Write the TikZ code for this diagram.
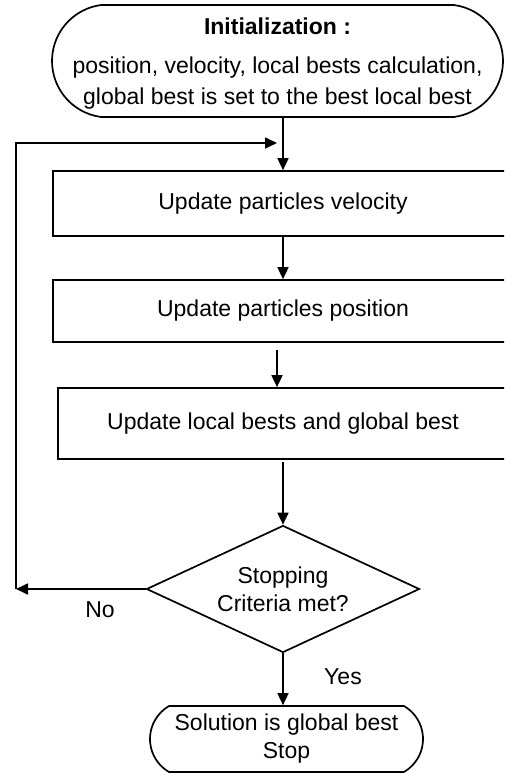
\documentclass[tikz,border=0pt]{standalone}
\usepackage{fontspec}
\setmainfont{Liberation Sans}
\usetikzlibrary{arrows.meta,shapes.geometric,shapes.misc}

\begin{document}
\begin{tikzpicture}[x=1pt,y=-1pt,
    every node/.style={font=\fontsize{23}{28}\selectfont,inner sep=0pt},
    procbox/.style={draw,line width=1.7pt,rectangle},
    termbox/.style={draw,line width=1.7pt,rounded rectangle},
    decbox/.style={draw,line width=1.7pt,diamond,aspect=2.15},
    flow/.style={line width=1.7pt,-{Triangle[length=12pt,width=11pt]}}]
  \useasboundingbox (0,0) rectangle (504,774);
  \clip (0,0) rectangle (504,774);
  % boxes
  \node[termbox,rounded rectangle arc length=165,minimum width=451,minimum height=112,
    align=center,font=\fontsize{23}{31}\selectfont] (init) at (277.5,61) {};
  \node[align=center,font=\fontsize{23}{31}\selectfont] (inittext) at (277.5,64)
    {\textbf{Initialization :}\\[8pt]position, velocity, local bests calculation,\\global best is set to the best local best};
  \node[procbox,minimum width=460,minimum height=65] (vel) at (283,203.5) {Update particles velocity};
  \node[procbox,minimum width=460,minimum height=62] (pos) at (283,311) {Update particles position};
  \node[procbox,minimum width=450,minimum height=71] (best) at (283,423.5) {Update local bests and global best};
  \node[decbox,minimum width=273,minimum height=127,align=center] (stop) at (283,589) {Stopping\\Criteria met?};
  \node[termbox,rounded rectangle arc length=120,minimum width=273,minimum height=66,align=center] (sol) at (286.5,739)
    {Solution is global best\\Stop};
  % loop back
  \coordinate (noend) at (16,589);
  \coordinate (backtop) at (16,143);
  \coordinate (backend) at (277,143);
  % connectors
  \draw[flow] (vel.north |- init.south) -- (vel.north);
  \draw[flow] (vel.south) -- (pos.north);
  \draw[flow,shorten <=7pt] ([xshift=-6pt]pos.south) -- ([xshift=-6pt]best.north);
  \draw[flow,shorten <=2pt] (best.south) -- (stop.north);
  \draw[flow] (stop.west) -- (noend);
  \draw[line width=1.7pt,-{Triangle[length=12pt,width=11pt]}] (noend) -- (backtop) -- (backend);
  \draw[flow] (stop.south) -- (stop.south |- sol.north);
  % labels
  \node (no) at (100,610) {No};
  \node (yes) at (343,677) {Yes};
\end{tikzpicture}
\end{document}
